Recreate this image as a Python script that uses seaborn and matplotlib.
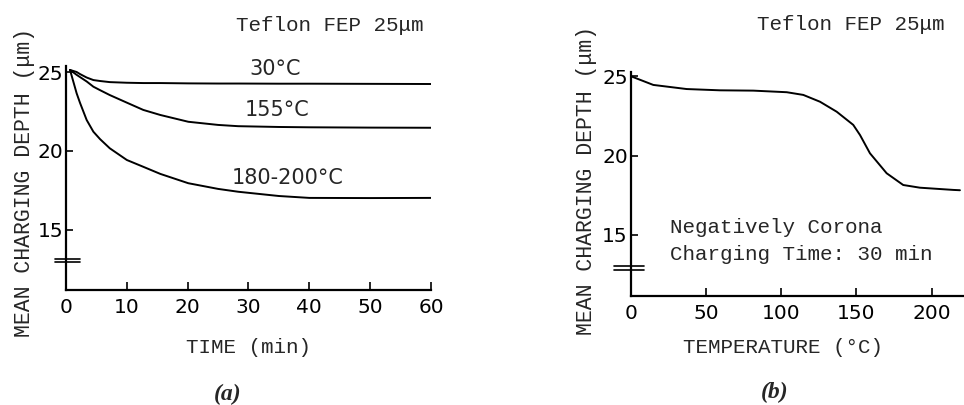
import numpy as np
import pandas as pd
import matplotlib
matplotlib.use("Agg")
import matplotlib.pyplot as plt
import seaborn as sns

# panel (a): mean charging depth vs charging time
time_min = [0.66, 1.75, 2.3, 3.4, 4.5, 5.6, 7.2, 10, 12.7, 15.5, 20.1, 25, 28.3, 35, 40, 50, 60]
depth_30 = [25.13, 25.0, 24.87, 24.65, 24.49, 24.43, 24.36, 24.32, 24.3, 24.3, 24.28, 24.27, 24.27, 24.26, 24.26, 24.25, 24.24]
depth_155 = [25.13, 24.82, 24.68, 24.4, 24.07, 23.85, 23.54, 23.06, 22.6, 22.28, 21.85, 21.65, 21.57, 21.52, 21.5, 21.48, 21.47]
depth_180 = [25.13, 23.65, 23.05, 21.96, 21.22, 20.75, 20.17, 19.43, 19.0, 18.55, 17.96, 17.6, 17.42, 17.15, 17.03, 17.02, 17.03]
curve_names = ["30°C", "155°C", "180-200°C"]

# panel (b): mean charging depth vs temperature
temp_c = [0.9, 15, 37.2, 59.3, 81.5, 103.7, 114.7, 125.8, 136.9, 147.9, 152.4, 159, 170.1, 181.1, 192.2, 214.4, 218.8]
depth_temp = [24.98, 24.46, 24.2, 24.12, 24.1, 24.0, 23.83, 23.4, 22.77, 21.94, 21.3, 20.15, 18.89, 18.15, 17.98, 17.84, 17.82]

sns.set_style("ticks")
plt.rcParams['font.family'] = ['DejaVu Sans']
mono = ['Liberation Mono', 'DejaVu Sans Mono']

df_a = pd.DataFrame({
    'time': time_min * 3,
    'depth': depth_30 + depth_155 + depth_180,
    'curve': [c for c in curve_names for _ in time_min],
})
df_b = pd.DataFrame({'temp': temp_c, 'depth': depth_temp})

fig = plt.figure(figsize=(9.64, 4.05), dpi=100)
ax1 = fig.add_axes([66/964, 1-290/405, 365/964, 224/405])
ax2 = fig.add_axes([630.7/964, 1-295.7/405, 333.3/964, 224.1/405])

sns.lineplot(data=df_a, x='time', y='depth', hue='curve', palette=['black']*3,
             legend=False, ax=ax1, linewidth=1.4)
sns.lineplot(data=df_b, x='temp', y='depth', color='black', ax=ax2, linewidth=1.4)

ax1.set_xlim(0, 60)
ax1.set_ylim(11.2, 25.38)
ax1.set_xticks([0, 10, 20, 30, 40, 50, 60])
ax2.set_xlim(0, 221.5)
ax2.set_ylim(11.17, 25.3)
ax2.set_xticks([0, 50, 100, 150, 200])

for ax in (ax1, ax2):
    ax.set_yticks([15, 20, 25])
    sns.despine(ax=ax)
    for s in ('left', 'bottom'):
        ax.spines[s].set_linewidth(1.6)
        ax.spines[s].set_color('black')
    ax.tick_params(axis='x', direction='in', length=6, width=1.2, labelsize=14.5, pad=6, colors='black')
    ax.tick_params(axis='y', direction='in', length=5, width=1.2, labelsize=14.5, pad=2, colors='black')
    ax.set_ylabel("MEAN CHARGING DEPTH (μm)", family=mono, fontsize=15.5)

ax1.set_xlabel("TIME (min)", family=mono, fontsize=15)
ax2.set_xlabel("TEMPERATURE (°C)", family=mono, fontsize=15)
ax1.xaxis.set_label_coords(0.5, -0.214)
ax2.xaxis.set_label_coords(0.457, -0.189)
ax1.yaxis.set_label_coords(-0.085, 0.478)
ax2.yaxis.set_label_coords(-0.101, 0.512)

# axis break marks
for y in (13.18, 12.97):
    ax1.plot([-11/365, 14/365], [y, y], color='black', lw=1.2,
             transform=ax1.get_yaxis_transform(), clip_on=False)
for y in (13.02, 12.77):
    ax2.plot([-17/333.3, 13/333.3], [y, y], color='black', lw=1.2,
             transform=ax2.get_yaxis_transform(), clip_on=False)

# annotations
ax1.text(43.4, 27.97, "Teflon FEP 25μm", family=mono, fontsize=15, ha='center', va='center')
ax1.text(34.4, 25.2, "30°C", fontsize=15, ha='center', va='center')
ax1.text(34.7, 22.6, "155°C", fontsize=15, ha='center', va='center')
ax1.text(36.5, 18.27, "180-200°C", fontsize=15, ha='center', va='center')

ax2.text(146.3, 28.24, "Teflon FEP 25μm", family=mono, fontsize=15, ha='center', va='center')
ax2.text(26.1, 15.46, "Negatively Corona", family=mono, fontsize=15, ha='left', va='center')
ax2.text(26.1, 13.75, "Charging Time: 30 min", family=mono, fontsize=15, ha='left', va='center')

fig.text(228/964, 1-394/405, "(a)", family='Liberation Serif', fontsize=17,
         fontweight='bold', fontstyle='italic', ha='center', va='center')
fig.text(775/964, 1-392/405, "(b)", family='Liberation Serif', fontsize=17,
         fontweight='bold', fontstyle='italic', ha='center', va='center')

fig.savefig("out.png", dpi=100)
